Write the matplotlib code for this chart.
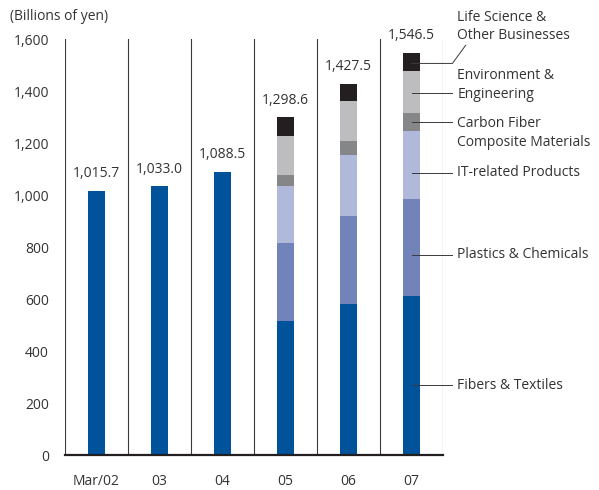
import numpy as np
import matplotlib.pyplot as plt

plt.rcParams['font.family'] = ['Open Sans', 'DejaVu Sans']

years = ["Mar/02", "03", "04", "05", "06", "07"]

# net sales by segment, billions of yen (segment split only from 05)
fibers = [1015.7, 1033.0, 1088.5, 514.8, 581.0, 610.5]
plastics = [0, 0, 0, 299.7, 338.6, 372.9]
it_products = [0, 0, 0, 219.0, 234.7, 261.4]
carbon = [0, 0, 0, 42.3, 53.9, 69.2]
environment = [0, 0, 0, 149.8, 153.9, 161.5]
life_science = [0, 0, 0, 73.0, 65.4, 71.0]

segments = ["Fibers & Textiles", "Plastics & Chemicals", "IT-related Products",
            "Carbon Fiber\nComposite Materials", "Environment &\nEngineering",
            "Life Science &\nOther Businesses"]
colors = ["#00539b", "#7183b9", "#b0b9da", "#858688", "#bdbdbf", "#231f20"]

txt = "#333333"

fig = plt.figure(figsize=(5.99, 4.90), dpi=100)
ax = fig.add_axes([65 / 599, 35 / 490, 378 / 599, 416 / 490])

x = np.arange(len(years))
series = [fibers, plastics, it_products, carbon, environment, life_science]
bottom = np.zeros(len(years))
for vals, c in zip(series, colors):
    vals = np.array(vals, dtype=float)
    ax.bar(x, vals, 0.28, bottom=bottom, color=c, linewidth=0, zorder=2)
    bottom += vals

for xi, total in zip(x, bottom):
    ax.annotate(f"{total:,.1f}", (xi, total), xytext=(0, 7), textcoords="offset points",
                ha="center", va="bottom", fontsize=10, color=txt)

ax.set_xlim(-0.5, len(years) - 0.5)
ax.set_ylim(0, 1600)
ax.set_yticks(range(0, 1601, 200))
ax.set_yticklabels([f"{v:,}" for v in range(0, 1601, 200)])
ax.set_xticks(x)
ax.set_xticklabels(years)
ax.tick_params(axis="both", length=0, labelsize=10, colors=txt)
ax.tick_params(axis="y", pad=11.5)
ax.tick_params(axis="x", pad=13.5)

for s in ["top", "right", "left"]:
    ax.spines[s].set_visible(False)
ax.spines["bottom"].set_color("#231f20")
ax.spines["bottom"].set_linewidth(1.6)
ax.spines["bottom"].set_zorder(4)

# vertical separators between years
for b in np.arange(-0.5, len(years), 1.0):
    ax.axvline(b, color="#3a3a3a", linewidth=0.8, zorder=1)

# segment legend with leader lines from the last bar
label_y = [269, 771, 1085, 1240, 1423, 1648]
line_y = [269, 771, 1085, 1281, 1394, 1506]
last = len(years) - 1
for name, ly, ty in zip(segments, line_y, label_y):
    if name.startswith("Life"):
        ax.plot([last, last + 0.65, last + 0.86], [ly, ly, 1576], color="#3a3a3a",
                linewidth=0.7, clip_on=False, zorder=3)
    else:
        ax.plot([last, last + 0.65], [ly, ly], color="#3a3a3a", linewidth=0.7,
                clip_on=False, zorder=3)
    ax.text(last + 0.73, ty, name, ha="left", va="center", fontsize=10, color=txt,
            linespacing=1.35, clip_on=False)

fig.text(10 / 599, 1 - 17 / 490, "(Billions of yen)", ha="left", va="center",
         fontsize=10, color=txt)

fig.savefig("out.png", dpi=100)
